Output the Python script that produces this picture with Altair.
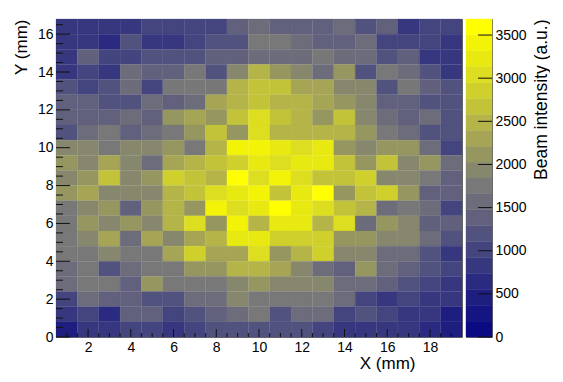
import altair as alt
import pandas as pd

FONT = "Liberation Sans"
ROWS_TOP_DOWN = [
 [850,850,850,800,1050,1050,1000,1000,1300,1500,1300,1300,1350,1500,1200,1350,750,1050,1050],
 [850,800,600,1250,750,750,950,1200,1200,1700,1700,1500,1350,1300,1500,950,950,950,750],
 [850,1450,1000,1050,1200,1200,1150,1300,1300,1500,1600,1600,1700,1650,1500,1200,1350,800,750],
 [850,1050,800,1600,1400,1400,1750,1200,1950,2550,2150,1950,1500,2100,1150,1700,1500,1250,750],
 [1200,1100,1250,1600,1050,1700,1700,1700,2450,2600,2600,2250,2250,1950,1950,1150,1700,1400,1250],
 [1350,1400,1250,1200,1550,1350,1500,2250,2450,2650,2400,2400,2250,2100,1850,1400,1300,1250,1200],
 [1300,1400,1400,1550,1400,2100,2250,2100,2650,3050,2650,2450,2050,2700,1900,1550,1400,1600,1250],
 [1200,1600,1750,1400,1600,1700,2050,2700,2050,3100,2450,2450,2450,2450,2100,1700,1500,1150,1200],
 [1950,1950,1700,1950,1950,2050,1750,2450,3500,3500,3250,3100,3300,2150,2000,2150,2100,1600,1050],
 [2050,1950,2350,1950,1550,2350,2550,2650,2850,3200,3000,3200,3300,2650,2050,2700,1950,2050,1500],
 [1900,2200,2750,1950,2050,2900,2700,2400,3650,3000,3350,2950,2650,2650,2800,1900,1900,1750,1350],
 [2100,2300,1950,1950,1950,2450,2700,3100,3300,3500,2650,3250,3550,2100,2650,2800,2100,1300,1350],
 [1750,1950,2200,1300,2050,2400,2200,3350,3050,3250,3680,3300,3050,2600,2450,1650,1700,1600,1000],
 [1700,2050,1950,2050,1850,2400,3000,2150,3500,2550,3300,3150,2550,2950,1500,2050,1950,1350,1450],
 [1700,1900,2300,1600,2300,1950,2250,2450,3300,3300,2800,2800,2850,2200,2100,1950,1950,1650,1250],
 [1700,1750,1900,1700,1700,2300,2850,2250,2250,2950,2100,2450,2850,1950,1850,1550,1600,1150,800],
 [1500,1700,1250,1550,1700,1700,2150,2100,2550,2450,2250,2000,1650,1450,2150,1600,1300,1200,1000],
 [1550,1750,1750,1350,2050,1750,1700,1700,1900,2100,1950,1950,1900,1500,1500,1350,1200,1000,800],
 [950,1650,1300,1300,1250,1200,1650,1500,1950,1700,1700,1700,1700,1650,1050,900,950,900,800],
 [800,950,700,1300,1300,1100,1250,1300,1500,1700,1250,1550,1600,950,1200,950,750,750,450],
 [500,900,750,950,1100,900,950,1150,1150,1250,1200,1200,950,800,750,850,800,700,450],
]
PALETTE = ["#0a0a82","#141482","#1e1e80","#2a2a80","#37377f","#44447f","#52527f","#61617d","#6c6c7a","#787878",
           "#87876e","#969661","#a5a555","#b4b448","#c3c33a","#d0d02d","#dede20","#e9e912","#f3f308","#ffff00"]
ZMAX = 3686
N_ROWS = 21
ROW_H = 0.8
X_MIN, X_MAX = 0.5, 19.5
Y_MIN, Y_MAX = 0.0, 16.8
X_MAJOR = [2,4,6,8,10,12,14,16,18]
Y_MAJOR = [0,2,4,6,8,10,12,14,16]
X_MINOR = [v/2 for v in range(2,39) if v/2 not in X_MAJOR]
Y_MINOR = [v/2 for v in range(1,34) if v/2 not in Y_MAJOR]
Z_MAJOR = [0,500,1000,1500,2000,2500,3000,3500]
PW, PH = 406, 318
BW = 26

cells = []
for r, row in enumerate(ROWS_TOP_DOWN):
    lo = (N_ROWS-1-r)*ROW_H
    for c, v in enumerate(row):
        cells.append(dict(x0=c+0.5, x1=c+1.5, y0=lo, y1=lo+ROW_H, v=v))
cells = pd.DataFrame(cells)

zscale = alt.Scale(type="quantize", domain=[0,ZMAX], range=PALETTE)
xs = alt.Scale(domain=[X_MIN,X_MAX], nice=False, zero=False)
ys = alt.Scale(domain=[Y_MIN,Y_MAX], nice=False, zero=False)

xaxis = alt.Axis(values=X_MAJOR, tickSize=0, domain=False, grid=False, labelFontSize=14, labelPadding=3,
                 labelFont=FONT, labelColor="black", labelFlush=False, format="d",
                 title="X (mm)", titleFont=FONT, titleFontSize=17, titleFontWeight="normal", titleColor="black",
                 titleAnchor="end", titleAlign="right", titleX=359, titleY=31, titleBaseline="alphabetic")
yaxis = alt.Axis(values=Y_MAJOR, tickSize=0, domain=False, grid=False, labelFontSize=14, labelPadding=3,
                 labelFont=FONT, labelColor="black", labelFlush=False, format="d",
                 title="Y (mm)", titleFont=FONT, titleFontSize=17, titleFontWeight="normal", titleColor="black",
                 titleAngle=270, titleAlign="right", titleAnchor="end", titleX=-30, titleY=0, titleBaseline="alphabetic")

heat = alt.Chart(cells).mark_rect(strokeWidth=0.4, strokeOpacity=0.6).encode(
    x=alt.X("x0:Q", scale=xs, axis=xaxis),
    x2="x1:Q",
    y=alt.Y("y0:Q", scale=ys, axis=yaxis),
    y2="y1:Q",
    color=alt.Color("v:Q", scale=zscale, legend=None),
    stroke=alt.Color("v:Q", scale=zscale, legend=None),
)
def xt(vals, n):
    return alt.Chart(pd.DataFrame({"t":vals})).mark_rule(color="#111", strokeWidth=1).encode(
        x=alt.X("t:Q", scale=xs, axis=xaxis), y=alt.value(PH), y2=alt.value(PH-n))
def yt(vals, n):
    return alt.Chart(pd.DataFrame({"t":vals})).mark_rule(color="#111", strokeWidth=1).encode(
        y=alt.Y("t:Q", scale=ys, axis=yaxis), x=alt.value(0), x2=alt.value(n))

main = alt.layer(heat, xt(X_MINOR,4), xt(X_MAJOR,8), yt(Y_MINOR,7), yt(Y_MAJOR,14)).properties(width=PW, height=PH)

bands = pd.DataFrame([dict(a=i*ZMAX/20, b=(i+1)*ZMAX/20, m=(i+0.5)*ZMAX/20) for i in range(20)])
zs = alt.Scale(domain=[0,ZMAX], nice=False, zero=False)
baxis = alt.Axis(values=Z_MAJOR, orient="right", tickSize=0, domain=False, grid=False, labelFontSize=14, labelPadding=3,
                 labelFont=FONT, labelColor="black", labelFlush=False, format="d",
                 title="Beam intensity (a.u.)", titleFont=FONT, titleFontSize=17.5, titleFontWeight="normal",
                 titleColor="black", titleAnchor="end", titleAlign="right", titleAngle=270, titleX=54, titleY=0, titleBaseline="alphabetic")
bar = alt.Chart(bands).mark_rect(strokeWidth=0.4).encode(
    x=alt.value(0), x2=alt.value(BW),
    y=alt.Y("a:Q", scale=zs, axis=baxis), y2="b:Q",
    color=alt.Color("m:Q", scale=zscale, legend=None),
    stroke=alt.Color("m:Q", scale=zscale, legend=None),
)
zt = alt.Chart(pd.DataFrame({"t":Z_MAJOR})).mark_rule(color="#111", strokeWidth=1).encode(
    y=alt.Y("t:Q", scale=zs, axis=baxis), x=alt.value(BW-14), x2=alt.value(BW))
cbar = alt.layer(bar, zt).properties(width=BW, height=PH)

chart = alt.hconcat(main, cbar, spacing=2).resolve_scale(color="independent", x="independent", y="independent").configure_view(
    stroke="#666", strokeWidth=1).properties(background="white", padding={"left":3,"top":10,"right":0,"bottom":5})
chart.save("out.html", embed_options={"renderer": "svg", "actions": False})
